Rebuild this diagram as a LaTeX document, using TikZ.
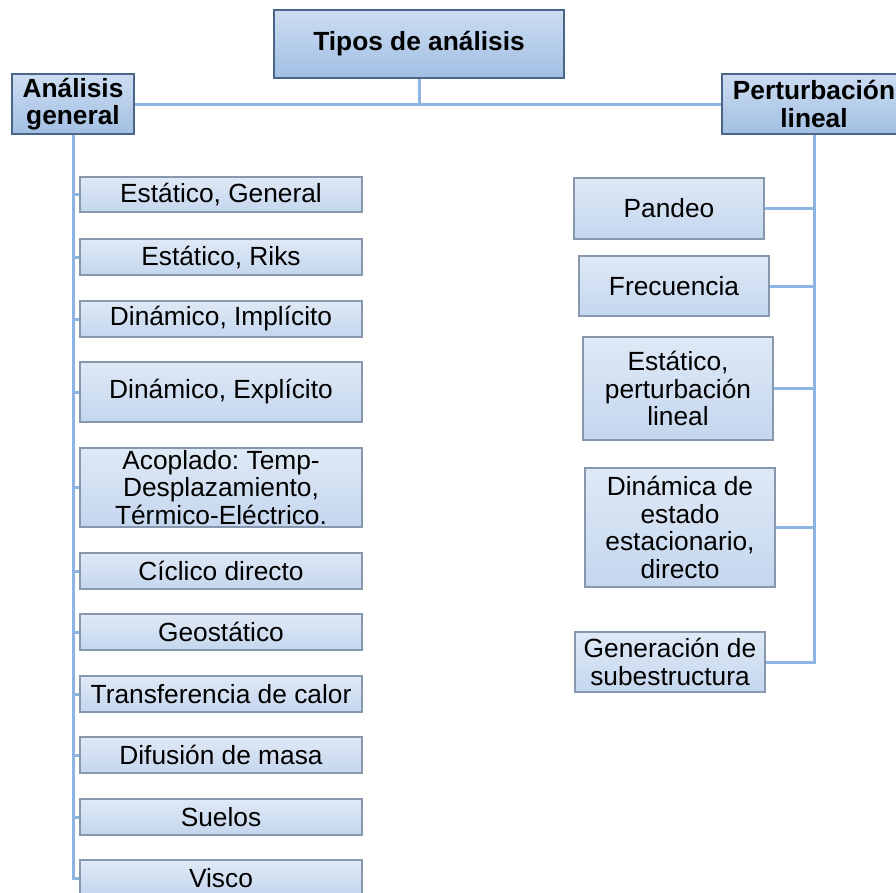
\documentclass[tikz,border=0pt]{standalone}
\usepackage{fontspec}
\setmainfont{Liberation Sans}
\frenchspacing
\definecolor{conn}{HTML}{8EB4E3}
\definecolor{hdtop}{HTML}{CCDDF2}
\definecolor{hdbot}{HTML}{A2BFE3}
\definecolor{hdline}{HTML}{4A6587}
\definecolor{chtop}{HTML}{DFE9F6}
\definecolor{chbot}{HTML}{C4D6EE}
\definecolor{chline}{HTML}{8898AC}
\tikzset{
  header/.style={draw=hdline, line width=1.5pt, top color=hdtop, bottom color=hdbot,
    inner sep=0pt, align=center, font=\fontsize{26.3}{27.5}\selectfont\bfseries},
  child/.style={draw=chline, line width=1.2pt, top color=chtop, bottom color=chbot,
    inner sep=0pt, align=center, font=\fontsize{26.3}{27.5}\selectfont},
  conn/.style={draw=conn, line width=3pt},
  lbox/.style={child, minimum width=282pt},
  rbox/.style={child, minimum width=190pt}
}
\begin{document}
\begin{tikzpicture}[x=1pt,y=-1pt]
\useasboundingbox (0,0) rectangle (896,892);
\clip (0,0) rectangle (896,892);
% headers
\node[header, minimum width=290pt, minimum height=68pt] (tipos) at (419,44) {Tipos de análisis};
\node[header, minimum width=122pt, minimum height=60pt] (ag) at (73,104) {Análisis\\general};
\node[header, minimum width=184pt, minimum height=60pt] (pl) at (814,104) {Perturbación\\lineal};
% left children
\node[lbox, minimum height=35pt] (l1) at (221,194.5) {Estático, General};
\node[lbox, minimum height=36pt] (l2) at (221,257) {Estático, Riks};
\node[lbox, minimum height=36pt] (l3) at (221,319) {Dinámico, Implícito};
\node[lbox, minimum height=60pt] (l4) at (221,392) {Dinámico, Explícito};
\node[lbox, minimum height=79pt] (l5) at (221,487.5) {Acoplado: Temp-\\Desplazamiento,\\Térmico-Eléctrico.};
\node[lbox, minimum height=36pt] (l6) at (221,571) {Cíclico directo};
\node[lbox, minimum height=36pt] (l7) at (221,632) {Geostático};
\node[lbox, minimum height=36pt] (l8) at (221,694) {Transferencia de calor};
\node[lbox, minimum height=36pt] (l9) at (221,755) {Difusión de masa};
\node[lbox, minimum height=36pt] (l10) at (221,817) {Suelos};
\node[lbox, minimum height=36pt] (l11) at (221,878) {Visco};
% right children
\node[rbox, minimum height=61pt] (r1) at (669,208.5) {Pandeo};
\node[rbox, minimum height=60pt] (r2) at (674,286) {Frecuencia};
\node[rbox, minimum height=103pt] (r3) at (678,388.5) {Estático,\\perturbación\\lineal};
\node[rbox, minimum height=119pt] (r4) at (680,527.5) {Dinámica de\\estado\\estacionario,\\directo};
\node[rbox, minimum height=60pt] (r5) at (670,662) {Generación de\\subestructura};
% connectors
\draw[conn] (ag.east) -- (pl.west);
\draw[conn] (tipos.south) -- (tipos.south |- ag.east);
\draw[conn] (ag.south) |- (l11.west);
\foreach \n in {l1,l2,l3,l4,l5,l6,l7,l8,l9,l10}
  \draw[conn] (\n.west) -- (\n.west -| ag.south);
\draw[conn] (pl.south) |- (r5.east);
\foreach \n in {r1,r2,r3,r4}
  \draw[conn] (\n.east) -- (\n.east -| pl.south);
\end{tikzpicture}
\end{document}
